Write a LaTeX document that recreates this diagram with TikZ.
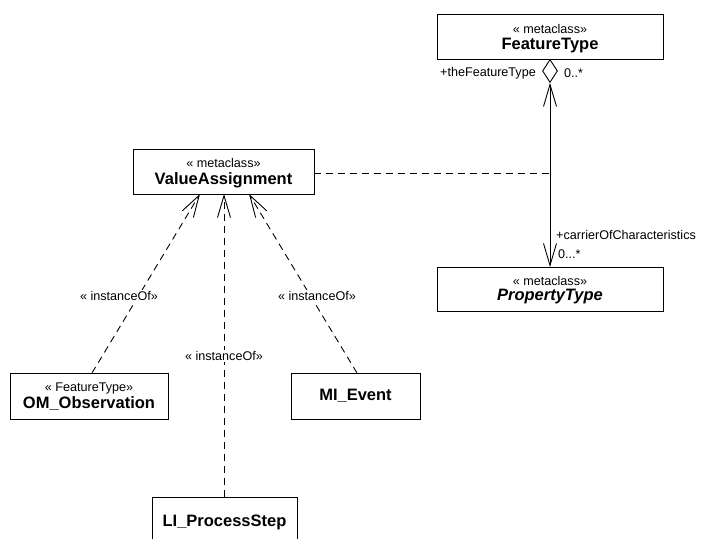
\documentclass[tikz,border=0pt]{standalone}
\usepackage{fontspec}
\setmainfont{Liberation Sans}
\usetikzlibrary{arrows.meta,shapes.geometric}
\begin{document}
\begin{tikzpicture}[x=1pt,y=-1pt,
  umlbox/.style={draw,line width=1pt},
  stereo/.style={font=\fontsize{12.6}{14}\selectfont},
  cname/.style={font=\fontsize{16.5}{18}\bfseries\selectfont},
  lbl/.style={font=\fontsize{12.6}{14}\selectfont,inner sep=1pt},
  openv/.tip={Straight Barb[length=22pt,width=13pt,line width=0.9pt]},
  realize/.style={dashed,dash pattern=on 7pt off 5pt,line width=0.9pt,-openv},
]
\useasboundingbox (0,0) rectangle (701,538);
\begin{scope}
\clip (0,0) rectangle (701,538);

% classes
\draw[umlbox] (437,14) rectangle (663,59);
\coordinate (ft) at (550,59);
\node[stereo] (ftst) at (550,29) {« metaclass»};
\node[cname] (ftnm) at (550,46) {FeatureType};

\draw[umlbox] (133,149) rectangle (314,194);
\coordinate (vaE) at (314,173);
\node[stereo] (vast) at (223.5,163) {« metaclass»};
\node[cname] (vanm) at (223.5,180) {ValueAssignment};
\coordinate (va1) at (200,194);
\coordinate (va2) at (224,194);
\coordinate (va3) at (249,194);

\draw[umlbox] (437,267) rectangle (663,311);
\coordinate (pt) at (550,267);
\node[stereo] (ptst) at (550,281) {« metaclass»};
\node[cname,font=\fontsize{16.5}{18}\bfseries\itshape\selectfont] (ptnm) at (550,297) {PropertyType};

\draw[umlbox] (10,373) rectangle (168,419);
\coordinate (om) at (92,373);
\node[stereo] (omst) at (89,388) {« FeatureType»};
\node[cname] (omnm) at (89,404) {OM\_Observation};

\draw[umlbox] (291,373) rectangle (420,419);
\coordinate (mi) at (357,373);
\node[cname] (minm) at (355.5,396) {MI\_Event};

\draw[umlbox] (152,497) rectangle (297,560);
\coordinate (li) at (224,497);
\node[cname] (linm) at (224.5,522) {LI\_ProcessStep};

% aggregation between FeatureType and PropertyType
\node[draw,diamond,line width=0.9pt,minimum width=15pt,minimum height=23pt,inner sep=0pt,anchor=north] (dia) at (ft) {};
\draw[line width=0.9pt,openv-openv] (dia.south) -- (pt);
\node[lbl,anchor=east] (role1) at (537,73) {+theFeatureType};
\node[lbl,anchor=west] (mult1) at (563,73) {0..*};
\node[lbl,anchor=west] (role2) at (555,235) {+carrierOfCharacteristics};
\node[lbl,anchor=west] (mult2) at (557,254) {0...*};

% association class link
\coordinate (junc) at (550,173);
\draw[dashed,dash pattern=on 7pt off 5pt,line width=0.9pt] (vaE) -- (junc);

% instanceOf dependencies
\draw[realize] (om) -- (va1);
\draw[realize] (li) -- (va2);
\draw[realize] (mi) -- (va3);
\node[lbl,fill=white] (io1) at (119,296) {« instanceOf»};
\node[lbl,fill=white] (io2) at (224,356) {« instanceOf»};
\node[lbl,fill=white] (io3) at (317,296) {« instanceOf»};
\end{scope}
\end{tikzpicture}
\end{document}
